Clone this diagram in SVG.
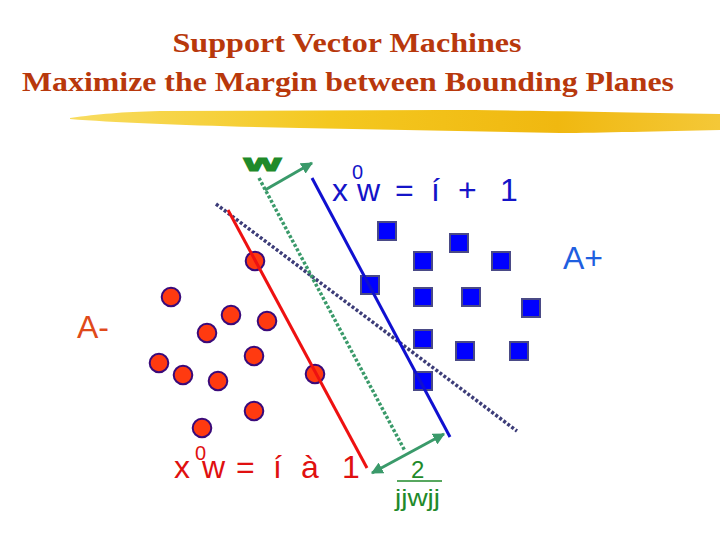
<svg xmlns="http://www.w3.org/2000/svg" width="720" height="540" viewBox="0 0 720 540">
<style>
.title{font-family:"Liberation Serif","Times New Roman",serif;font-weight:bold;font-size:28px;fill:#b8380c;text-anchor:middle}
.f{font-family:"Liberation Sans",Arial,sans-serif}
.big{font-size:32px}
.sm{font-size:24px}
.blue{fill:#1414c8}
.red{fill:#e01010}
.grn{fill:#1f8a2a}
.sq{fill:#0000ff;stroke:#4a4a86;stroke-width:2}
.ci{fill:#ff3a10;stroke:#3a0a7a;stroke-width:2}
.dot{stroke-width:3.5;stroke-dasharray:3 2}
</style>
<defs>
<linearGradient id="brush" x1="0" y1="0" x2="1" y2="0">
<stop offset="0" stop-color="#f8dc60"/>
<stop offset="0.4" stop-color="#f4c820"/>
<stop offset="0.75" stop-color="#f0b810"/>
<stop offset="1" stop-color="#f4c838"/>
</linearGradient>
<marker id="ah" viewBox="0 0 10 10" refX="9" refY="5" markerWidth="4" markerHeight="4" orient="auto-start-reverse" markerUnits="strokeWidth">
<path d="M0,0 L10,5 L0,10 Z" fill="#3a9a6a"/>
</marker>
</defs>
<rect width="720" height="540" fill="#ffffff"/>
<text class="title" x="347" y="52" textLength="349" lengthAdjust="spacingAndGlyphs">Support Vector Machines</text>
<text class="title" x="348" y="91" textLength="652" lengthAdjust="spacingAndGlyphs">Maximize the Margin between Bounding Planes</text>
<path d="M70,118 C100,114 120,112 160,111 L440,110 C520,110 600,112 720,114 L720,130 C660,131 600,133 560,133 L300,128 C200,126 120,123 70,119 Z" fill="url(#brush)"/>
<g id="connectors">
<line class="dot" x1="216" y1="204" x2="517" y2="431" stroke="#3c3c78"/>
<line class="dot" x1="259" y1="178" x2="405" y2="451" stroke="#3a9a6a"/>
<line x1="265" y1="190" x2="312" y2="163" stroke="#3a9a6a" stroke-width="3" marker-end="url(#ah)"/>
<line x1="372" y1="473" x2="444" y2="434" stroke="#3a9a6a" stroke-width="3" marker-start="url(#ah)" marker-end="url(#ah)"/>
</g>
<g id="aplus">
<rect class="sq" x="378" y="222" width="18" height="18"/>
<rect class="sq" x="450" y="234" width="18" height="18"/>
<rect class="sq" x="414" y="252" width="18" height="18"/>
<rect class="sq" x="492" y="252" width="18" height="18"/>
<rect class="sq" x="361" y="276" width="18" height="18"/>
<rect class="sq" x="414" y="288" width="18" height="18"/>
<rect class="sq" x="462" y="288" width="18" height="18"/>
<rect class="sq" x="522" y="299" width="18" height="18"/>
<rect class="sq" x="414" y="330" width="18" height="18"/>
<rect class="sq" x="456" y="342" width="18" height="18"/>
<rect class="sq" x="510" y="342" width="18" height="18"/>
<rect class="sq" x="414" y="372" width="18" height="18"/>
</g>
<g id="aminus">
<circle class="ci" cx="171" cy="297" r="9.3"/>
<circle class="ci" cx="255" cy="261" r="9.3"/>
<circle class="ci" cx="231" cy="315" r="9.3"/>
<circle class="ci" cx="267" cy="321" r="9.3"/>
<circle class="ci" cx="207" cy="333" r="9.3"/>
<circle class="ci" cx="254" cy="356" r="9.3"/>
<circle class="ci" cx="159" cy="363" r="9.3"/>
<circle class="ci" cx="183" cy="375" r="9.3"/>
<circle class="ci" cx="218" cy="381" r="9.3"/>
<circle class="ci" cx="315" cy="374" r="9.3"/>
<circle class="ci" cx="254" cy="411" r="9.3"/>
<circle class="ci" cx="202" cy="428" r="9.3"/>
</g>
<g id="planes">
<line x1="228" y1="210" x2="367" y2="468" stroke="#ee1111" stroke-width="3"/>
<line x1="312" y1="178" x2="450" y2="437" stroke="#1010d0" stroke-width="3"/>
</g>
<g id="labels">
<text class="f grn" x="244" y="171" style="font-size:23px;font-weight:bold;stroke:#1f8a2a;stroke-width:1.2" textLength="37" lengthAdjust="spacingAndGlyphs">w</text>
<text class="f big blue" x="332" y="201">x<tspan style="font-size:20px" x="352" y="179">0</tspan><tspan x="357" y="201">w</tspan><tspan x="395">=</tspan><tspan x="431">í</tspan><tspan x="458">+</tspan><tspan x="500">1</tspan></text>
<text class="f big red" x="174" y="478">x<tspan style="font-size:20px" x="195" y="460">0</tspan><tspan x="202" y="478">w</tspan><tspan x="236">=</tspan><tspan x="273">í</tspan><tspan x="301">à</tspan><tspan x="342">1</tspan></text>
<text class="f sm grn" x="411" y="478">2</text>
<line x1="397" y1="481" x2="442" y2="481" stroke="#1f8a2a" stroke-width="1.5"/>
<text class="f sm grn" x="395" y="506" textLength="45" lengthAdjust="spacingAndGlyphs">jjwjj</text>
<text class="f big" x="563" y="269" fill="#1f5fe0">A+</text>
<text class="f big" x="77" y="338" fill="#e04a1a">A-</text>
</g>
</svg>
